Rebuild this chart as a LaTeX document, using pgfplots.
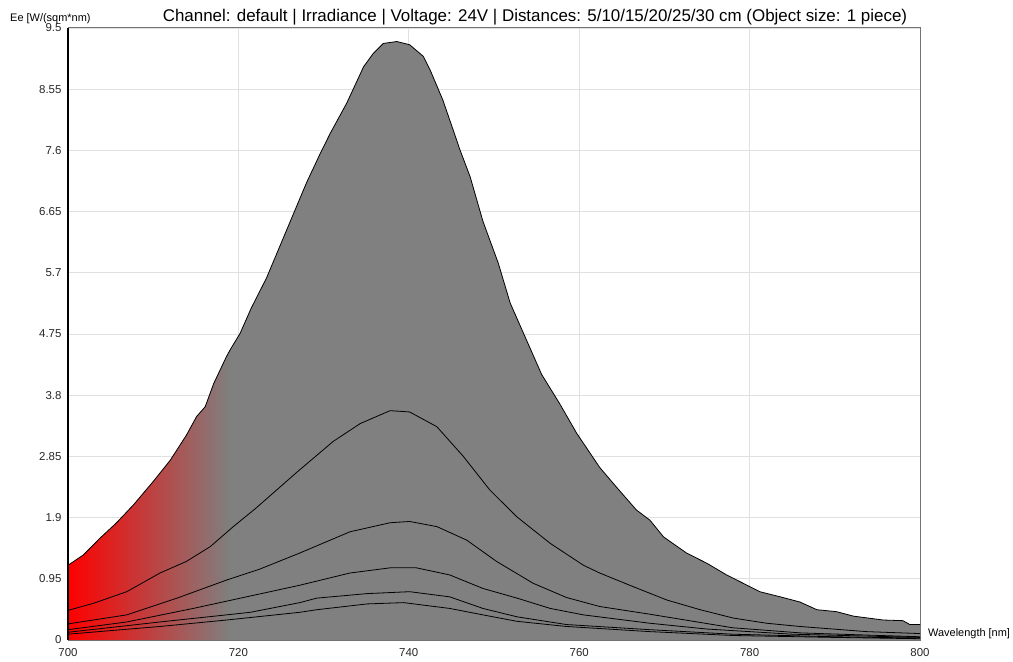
\documentclass[border=0pt]{standalone}
\usepackage{pgfplots}
\pgfplotsset{compat=1.18}
\usepackage{pgfplotstable}
\usepackage{fontspec}
\setmainfont{Liberation Sans}

\pgfplotstableread{
x y
700 1.16
701.8 1.32
703.75 1.58
705.7 1.82
707.7 2.10
710.0 2.46
712.0 2.79
713.9 3.18
715.1 3.47
716.1 3.62
717.1 3.98
718.6 4.40
719.1 4.52
720.2 4.76
721.5 5.15
723.3 5.62
725.3 6.25
728.0 7.10
729.6 7.55
730.8 7.87
732.7 8.33
734.7 8.90
735.8 9.10
737.0 9.26
738.6 9.29
740.1 9.24
741.7 9.06
742.5 8.85
744.0 8.38
745.2 7.92
746.0 7.61
747.2 7.19
748.7 6.50
750.5 5.85
751.9 5.23
753.5 4.75
755.6 4.12
757.7 3.67
759.7 3.21
762.4 2.68
764.0 2.43
766.7 2.02
768.3 1.86
769.9 1.60
772.6 1.35
775.0 1.19
777.3 1.01
779.7 0.85
781.2 0.75
783.6 0.67
785.9 0.59
787.9 0.47
790.2 0.44
792.2 0.37
795.7 0.31
798.0 0.30
798.8 0.24
800 0.24
}\dA

\pgfplotstableread{
x y
700 0.46
703.0 0.57
706.9 0.75
710.8 1.04
713.9 1.22
716.7 1.45
719.4 1.76
722.0 2.04
724.5 2.33
727.0 2.62
729.5 2.90
731.1 3.08
734.3 3.36
737.8 3.56
740.1 3.54
743.3 3.31
746.4 2.85
749.5 2.33
752.7 1.91
756.6 1.50
760.5 1.16
762.4 1.04
766.3 0.83
770.3 0.62
774.2 0.47
778.1 0.34
782.0 0.26
785.9 0.21
789.8 0.17
793.7 0.13
800 0.10
}\dB

\pgfplotstableread{
x y
700 0.25
706.9 0.39
712.8 0.65
718.6 0.93
722.5 1.10
727.2 1.35
733.1 1.68
737.8 1.82
740.1 1.84
743.3 1.76
746.8 1.55
750.3 1.22
754.6 0.88
758.5 0.66
762.4 0.52
768.3 0.40
772.0 0.32
778.0 0.19
786.0 0.11
800 0.05
}\dC

\pgfplotstableread{
x y
700 0.16
706.9 0.28
714.7 0.49
720.6 0.66
727.2 0.85
733.1 1.04
737.8 1.12
740.9 1.12
744.8 1.01
748.7 0.80
752.7 0.65
756.6 0.49
760.5 0.39
768.3 0.26
775 0.17
785 0.09
800 0.04
}\dD

\pgfplotstableread{
x y
700 0.12
710.8 0.28
718.6 0.39
721.4 0.43
727.2 0.58
729.2 0.65
735.1 0.72
740.1 0.75
744.8 0.67
748.7 0.49
752.7 0.36
758.5 0.24
768.3 0.16
778 0.09
790 0.05
800 0.03
}\dE

\pgfplotstableread{
x y
700 0.09
710.8 0.21
718.6 0.31
727.2 0.43
729.2 0.47
735.1 0.56
739.4 0.58
744.8 0.49
748.7 0.39
752.7 0.29
758.5 0.21
768.3 0.13
778 0.07
790 0.04
800 0.02
}\dF

\begin{document}
\begin{tikzpicture}
\path[use as bounding box] (-68bp,-22bp) rectangle (945bp,640bp);
\begin{axis}[
  at={(0,0)}, anchor=south west,
  scale only axis, width=852bp, height=612bp,
  xmin=700, xmax=800, ymin=0, ymax=9.5,
  xtick={700,720,740,760,780,800},
  xticklabels={700,720,740,760,780,800},
  ytick={0,0.95,1.9,2.85,3.8,4.75,5.7,6.65,7.6,8.55,9.5},
  yticklabels={0,0.95,1.9,2.85,3.8,4.75,5.7,6.65,7.6,8.55,9.5},
  major tick length=0pt,
  grid=major,
  grid style={draw=black!12, line width=0.8bp},
  axis line style={draw=black!55, line width=1bp},
  tick label style={font=\fontsize{11.5}{13}\selectfont, text=black!85},
  yticklabel style={xshift=-3bp},
  xticklabel style={yshift=-5bp},
]
\addplot[draw=none, fill=gray] table[x=x,y=y]{\dA} \closedcycle;
\addplot[draw=none, left color=red, right color=gray, restrict x to domain=700:719.15] table[x=x,y=y]{\dA} \closedcycle;
\addplot[black, line width=0.8bp] table[x=x,y=y]{\dA};
\addplot[black, line width=0.8bp] table[x=x,y=y]{\dB};
\addplot[black, line width=0.8bp] table[x=x,y=y]{\dC};
\addplot[black, line width=0.8bp] table[x=x,y=y]{\dD};
\addplot[black, line width=0.8bp] table[x=x,y=y]{\dE};
\addplot[black, line width=0.8bp] table[x=x,y=y]{\dF};
\end{axis}
\draw[black, line width=1.2bp] (0,0) -- (0,612bp);
\node[anchor=base, inner sep=0pt, font=\fontsize{17}{19}\selectfont] at (467bp,618bp) {Channel: default | Irradiance | Voltage: 24V | Distances: 5/10/15/20/25/30 cm (Object size: 1 piece)};
\node[anchor=base west, inner sep=0pt, font=\fontsize{11}{13}\selectfont] at (-58bp,618bp) {Ee [W/(sqm*nm)};
\node[anchor=base west, inner sep=0pt, font=\fontsize{11}{13}\selectfont] at (860bp,4bp) {Wavelength [nm]};
\end{tikzpicture}
\end{document}
